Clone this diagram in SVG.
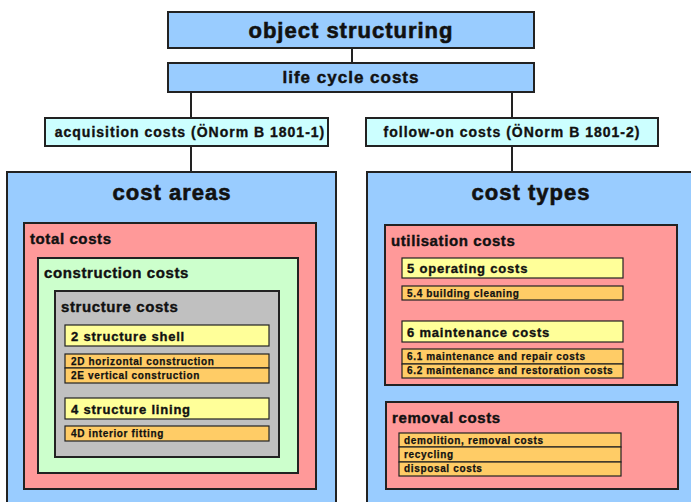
<svg xmlns="http://www.w3.org/2000/svg" width="691" height="502" viewBox="0 0 691 502">
  <style>
    text { font-family: "Liberation Sans", Arial, sans-serif; font-weight: bold; fill: #111; stroke: #111; stroke-width: 0.35px; }
    .box { stroke: #222; stroke-width: 2; }
    .sm { stroke: #222; stroke-width: 1.2; }
    .blue { fill: #99ccff; }
    .cyan { fill: #ccffff; }
    .red { fill: #ff9999; }
    .green { fill: #ccffcc; }
    .grey { fill: #c0c0c0; }
    .yellow { fill: #ffff99; }
    .orange { fill: #ffcc66; }
    .h1 { font-size: 22px; letter-spacing: 1px; text-anchor: middle; stroke-width: 0.6px; }
    .h2 { font-size: 17px; letter-spacing: 1px; text-anchor: middle; stroke-width: 0.45px; }
    .h3 { font-size: 14px; letter-spacing: 1px; text-anchor: middle; }
    .area { font-size: 22px; letter-spacing: 1px; text-anchor: middle; stroke-width: 0.6px; }
    .sec { font-size: 15px; letter-spacing: 0.6px; stroke-width: 0.4px; }
    .item { font-size: 13px; letter-spacing: 0.8px; }
    .sub { font-size: 10px; letter-spacing: 0.65px; stroke-width: 0.25px; }
    .link { stroke: #222; stroke-width: 2; fill: none; }
  </style>

  <rect width="691" height="502" fill="#ffffff"/>

  <!-- connectors -->
  <g id="connectors">
    <line class="link" x1="352" y1="48" x2="352" y2="63"/>
    <line class="link" x1="191" y1="92" x2="191" y2="118"/>
    <line class="link" x1="512" y1="92" x2="512" y2="118"/>
    <line class="link" x1="191" y1="146" x2="191" y2="172"/>
    <line class="link" x1="512" y1="146" x2="512" y2="172"/>
  </g>

  <g id="object-structuring">
    <rect class="box blue" x="168" y="12" width="366" height="36"/>
    <text class="h1" x="351" y="38">object structuring</text>
  </g>

  <g id="life-cycle-costs">
    <rect class="box blue" x="168" y="63" width="366" height="29"/>
    <text class="h2" x="351" y="83">life cycle costs</text>
  </g>

  <g id="acquisition-costs">
    <rect class="box cyan" x="45" y="118" width="283" height="28"/>
    <text class="h3" x="190" y="137">acquisition costs (ÖNorm B 1801-1)</text>
  </g>

  <g id="follow-on-costs">
    <rect class="box cyan" x="366" y="118" width="292" height="28"/>
    <text class="h3" x="512" y="137">follow-on costs (ÖNorm B 1801-2)</text>
  </g>

  <!-- cost areas: nested acquisition cost breakdown -->
  <g id="cost-areas">
    <rect class="box blue" x="7" y="172" width="329" height="340"/>
    <text class="area" x="172" y="200">cost areas</text>

    <g id="total-costs">
      <rect class="box red" x="24" y="223" width="292" height="266"/>
      <text class="sec" x="30" y="244">total costs</text>
    </g>

    <g id="construction-costs">
      <rect class="box green" x="38" y="258" width="260" height="215"/>
      <text class="sec" x="44" y="278">construction costs</text>
    </g>

    <g id="structure-costs">
      <rect class="box grey" x="55" y="291" width="224" height="166"/>
      <text class="sec" x="61" y="312">structure costs</text>
    </g>

    <g id="structure-shell">
      <rect class="sm yellow" x="65" y="325" width="204" height="21"/>
      <text class="item" x="71" y="341">2 structure shell</text>
    </g>

    <g id="shell-parts">
      <rect class="sm orange" x="65" y="354" width="204" height="14"/>
      <rect class="sm orange" x="65" y="368" width="204" height="15"/>
      <text class="sub" x="71" y="365">2D horizontal construction</text>
      <text class="sub" x="71" y="379">2E vertical construction</text>
    </g>

    <g id="structure-lining">
      <rect class="sm yellow" x="65" y="398" width="204" height="21"/>
      <text class="item" x="71" y="414">4 structure lining</text>
    </g>

    <g id="interior-fitting">
      <rect class="sm orange" x="65" y="426" width="204" height="15"/>
      <text class="sub" x="71" y="437">4D interior fitting</text>
    </g>
  </g>

  <!-- cost types: follow-on cost breakdown -->
  <g id="cost-types">
    <rect class="box blue" x="367" y="172" width="340" height="340"/>
    <text class="area" x="531" y="200">cost types</text>

    <g id="utilisation-costs">
      <rect class="box red" x="385" y="225" width="292" height="160"/>
      <text class="sec" x="391" y="246">utilisation costs</text>
    </g>

    <g id="operating-costs">
      <rect class="sm yellow" x="402" y="258" width="221" height="20"/>
      <text class="item" x="407" y="273">5 operating costs</text>
    </g>

    <g id="building-cleaning">
      <rect class="sm orange" x="402" y="286" width="221" height="14"/>
      <text class="sub" x="407" y="297">5.4 building cleaning</text>
    </g>

    <g id="maintenance-costs">
      <rect class="sm yellow" x="402" y="321" width="221" height="21"/>
      <text class="item" x="407" y="337">6 maintenance costs</text>
    </g>

    <g id="maintenance-parts">
      <rect class="sm orange" x="402" y="349" width="221" height="15"/>
      <rect class="sm orange" x="402" y="364" width="221" height="14"/>
      <text class="sub" x="407" y="360">6.1 maintenance and repair costs</text>
      <text class="sub" x="407" y="374">6.2 maintenance and restoration costs</text>
    </g>

    <g id="removal-costs">
      <rect class="box red" x="386" y="402" width="292" height="87"/>
      <text class="sec" x="392" y="423">removal costs</text>
    </g>

    <g id="removal-parts">
      <rect class="sm orange" x="399" y="433" width="222" height="14"/>
      <rect class="sm orange" x="399" y="447" width="222" height="15"/>
      <rect class="sm orange" x="399" y="462" width="222" height="14"/>
      <text class="sub" x="404" y="444">demolition, removal costs</text>
      <text class="sub" x="404" y="458">recycling</text>
      <text class="sub" x="404" y="472">disposal costs</text>
    </g>
  </g>
</svg>
